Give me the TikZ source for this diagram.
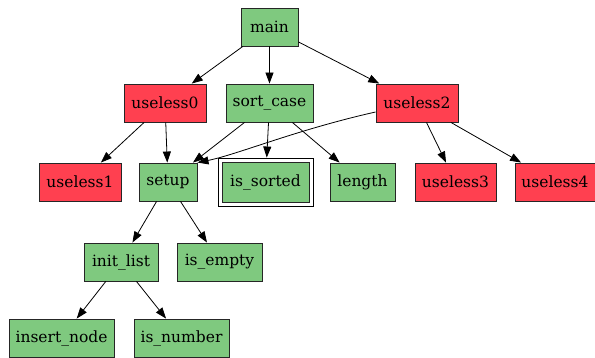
\documentclass[tikz,border=0pt]{standalone}
\usepackage{fontspec}
\setmainfont{DejaVu Serif}
\usetikzlibrary{arrows.meta}
\definecolor{gfill}{HTML}{7FC97F}
\definecolor{rfill}{HTML}{FF4050}
\begin{document}
\begin{tikzpicture}[x=1pt,y=-1pt,
  box/.style={draw=black!85, line width=0.9pt, inner sep=0pt, minimum height=38pt, font=\fontsize{15.5}{18}\selectfont},
  gbox/.style={box, fill=gfill},
  rbox/.style={box, fill=rfill},
  obox/.style={draw=black, line width=0.9pt, fill=white, inner sep=0pt, minimum width=95pt, minimum height=48pt},
  edge/.style={draw=black, line width=0.8pt, -{Triangle[length=11pt,width=8pt]}}
]
\useasboundingbox (0,0) rectangle (595,358);
\node[gbox, minimum width=57pt] (main) at (269.5,27) {main};
\node[rbox, minimum width=82pt] (u0) at (165,103) {useless0};
\node[gbox, minimum width=87pt] (sc) at (269.5,103) {sort\_case};
\node[rbox, minimum width=82pt] (u2) at (417,103) {useless2};
\node[rbox, minimum width=82pt] (u1) at (80,182) {useless1};
\node[gbox, minimum width=58pt] (setup) at (168,182) {setup};
\node[obox] (isso) at (265.5,182) {};
\node[gbox, minimum width=87pt, minimum height=40pt] (iss) at (265.5,182) {is\_sorted};
\node[gbox, minimum width=65pt] (len) at (362.5,182) {length};
\node[rbox, minimum width=81pt] (u3) at (455.5,182) {useless3};
\node[rbox, minimum width=80pt] (u4) at (555,182) {useless4};
\node[gbox, minimum width=74pt] (il) at (121,262) {init\_list};
\node[gbox, minimum width=85pt] (ie) at (219.5,262) {is\_empty};
\node[gbox, minimum width=105pt] (in) at (61.5,338) {insert\_node};
\node[gbox, minimum width=95pt] (inum) at (181.5,338) {is\_number};
\draw[edge] (main) -- (u0);
\draw[edge] (main) -- (sc);
\draw[edge] (main) -- (u2);
\draw[edge] (u0) -- (u1);
\draw[edge] (u0) -- (setup);
\draw[edge] (sc) -- (setup);
\draw[edge] (sc) -- (isso);
\draw[edge] (sc) -- (len);
\draw[edge] ([yshift=-9pt]u2.west) .. controls ([xshift=-80pt,yshift=-27pt]u2.west) and ([xshift=40pt,yshift=8pt]setup.north east) .. (setup.north east);
\draw[edge] (u2) -- (u3);
\draw[edge] (u2) -- (u4);
\draw[edge] (setup) -- (il);
\draw[edge] (setup) -- (ie);
\draw[edge] (il) -- (in);
\draw[edge] (il) -- (inum);
\end{tikzpicture}
\end{document}
